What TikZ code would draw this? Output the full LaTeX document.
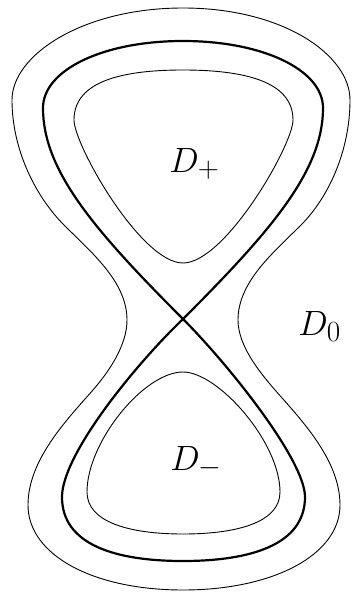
\documentclass[tikz,border=0pt]{standalone}
\begin{document}
\begin{tikzpicture}[x=1pt,y=-1pt,
  thincurve/.style={line width=0.9pt,black},
  thickcurve/.style={line width=2.2pt,black,line join=round},
  lbl/.style={anchor=base west,inner sep=0pt,font=\Huge,scale=1.41}]
\useasboundingbox (0,0) rectangle (352,594);
% outer thin curve
\draw[thincurve] (183,8) .. controls (283,8) and (350,55) .. (350,100)
  .. controls (350,150) and (329,197) .. (301,225)
  .. controls (273,253) and (238,282) .. (238,320)
  .. controls (238,345) and (258.5,371) .. (275,390)
  .. controls (301.4,420) and (340,460) .. (340,505)
  .. controls (340,555) and (273,590) .. (183,590)
  .. controls (93,590) and (28,555) .. (28,505)
  .. controls (28,460) and (66.6,420) .. (93,390)
  .. controls (109.5,371) and (127,345) .. (127,320)
  .. controls (127,282) and (92,253) .. (64,225)
  .. controls (36,197) and (12,150) .. (12,100)
  .. controls (12,55) and (83,8) .. cycle;
% thick figure eight
\coordinate (C) at (183,319);
\draw[thickcurve] (C) .. controls (273,229) and (323,170) .. (323,108)
  .. controls (323,70) and (263,41) .. (183,41)
  .. controls (103,41) and (43,70) .. (43,108)
  .. controls (43,170) and (93,229) .. (C)
  .. controls (228,364) and (305,460) .. (305,497)
  .. controls (305,545) and (250,561) .. (183,561)
  .. controls (116,561) and (62,545) .. (62,497)
  .. controls (62,455) and (134,366) .. (C);
% inner upper
\draw[thincurve] (183,70) .. controls (253,70) and (293,85) .. (293,120)
  .. controls (293,145) and (225,263) .. (183,263)
  .. controls (141,263) and (74,145) .. (74,120)
  .. controls (74,85) and (113,70) .. cycle;
% inner lower
\draw[thincurve] (183,372) .. controls (218,372) and (280,442) .. (280,492)
  .. controls (280,522) and (238,534) .. (183,534)
  .. controls (129,534) and (87,522) .. (87,492)
  .. controls (87,442) and (144,372) .. cycle;
% labels
\node[lbl] (dplus) at (169,172) {$D_+$};
\node[lbl] (dzero) at (298,335) {$D_0$};
\node[lbl] (dminus) at (170,470) {$D_-$};
\end{tikzpicture}
\end{document}
